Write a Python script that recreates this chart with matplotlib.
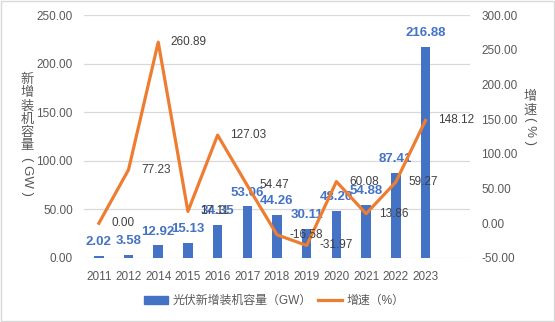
import matplotlib
matplotlib.use("Agg")
import matplotlib.pyplot as plt
from matplotlib.patches import Rectangle
from matplotlib.lines import Line2D
from matplotlib.patches import Patch

plt.rcParams['font.family'] = ['Liberation Sans', 'Noto Sans CJK SC', 'DejaVu Sans']

# data
years = ['2011', '2012', '2014', '2015', '2016', '2017', '2018', '2019',
         '2020', '2021', '2022', '2023']
capacity = [2.02, 3.58, 12.92, 15.13, 34.35, 53.06, 44.26, 30.11,
            48.20, 54.88, 87.41, 216.88]
growth = [0.00, 77.23, 260.89, 17.11, 127.03, 54.47, -16.58, -31.97,
          60.08, 13.86, 59.27, 148.12]

blue = '#4472C4'
orange = '#ED7D31'
gray = '#595959'

W, H = 555, 322
fig = plt.figure(figsize=(W/100, H/100), dpi=100)
ax = fig.add_axes([84/W, 1-258/H, (470-84)/W, (258-15)/H])
ax2 = ax.twinx()

x = list(range(len(years)))
ax.bar(x, capacity, width=0.32, color=blue, zorder=2)
ax.set_xlim(-0.5, 12.5)
ax.set_ylim(0, 250)
ax.set_yticks([0, 50, 100, 150, 200, 250])
ax.set_yticklabels(['%.2f' % v for v in ax.get_yticks()])
ax.grid(axis='y', color='#D9D9D9', lw=0.9, zorder=0)
ax.set_axisbelow(True)
ax.set_xticks(x)
ax.set_xticklabels(years)
ax.tick_params(axis='both', length=0, labelsize=8.5, colors=gray, pad=8)
ax.tick_params(axis='x', pad=9)
for s in ax.spines.values():
    s.set_visible(False)

# bar labels
for xi, v in zip(x, capacity):
    ax.annotate('%.2f' % v, (xi, v), xytext=(0, 10), textcoords='offset points',
                ha='center', va='center', fontsize=9.5, fontweight='bold',
                color=blue, zorder=5)

ax2.plot(x, growth, color=orange, lw=2.3, zorder=3)
ax2.set_ylim(-50, 300)
ax2.set_yticks(range(-50, 301, 50))
ax2.set_yticklabels(['%.2f' % v for v in range(-50, 301, 50)])
ax2.tick_params(axis='y', length=0, labelsize=8.5, colors=gray, pad=8)
for s in ax2.spines.values():
    s.set_visible(False)

for xi, v in zip(x, growth):
    ax2.annotate('%.2f' % v, (xi, v), xytext=(9, 0), textcoords='offset points',
                 ha='left', va='center', fontsize=8.5, color='#404040')

# axis titles, stacked one character under another
def stacked(xpix, ytop, chars, tail, tail_y):
    for i, ch in enumerate(chars):
        fig.text(xpix/W, 1-(ytop + 13.2*i)/H, ch, ha='center', va='center',
                 fontsize=9.5, color=gray)
    fig.text(xpix/W, 1-tail_y/H, tail, ha='center', va='center', rotation=-90,
             fontsize=9.5, color=gray)

stacked(27, 80, '新增装机容量', '( GW )', 176)
stacked(530, 97, '增速', '( % )', 131)

handles = [Patch(color=blue), Line2D([], [], color=orange, lw=2.3)]
fig.legend(handles, ['光伏新增装机容量（GW）', '增速（%）'], loc='center',
           bbox_to_anchor=(274/W, 1-301/H), ncol=2, frameon=False,
           fontsize=8.6, labelcolor=gray, handlelength=2.0, handleheight=0.6,
           columnspacing=0.5, handletextpad=0.4)

fig.patches.append(Rectangle((0.001, 0.002), 0.997, 0.995, transform=fig.transFigure,
                             fill=False, edgecolor='#D9D9D9', lw=1))

fig.savefig('out.png', dpi=100)
